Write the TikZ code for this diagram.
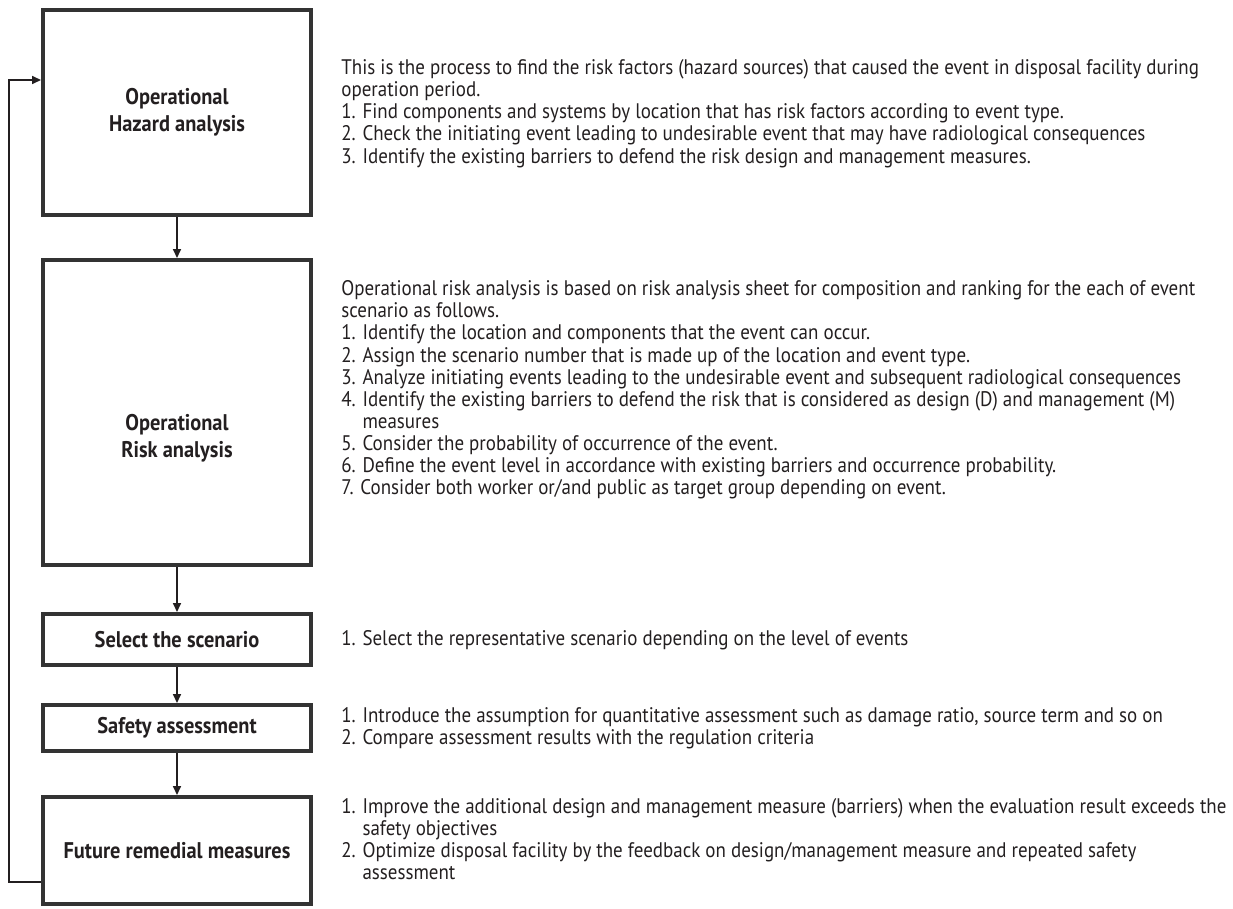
\documentclass[tikz,border=0pt]{standalone}
\usepackage{fontspec}
\setmainfont[FakeStretch=0.9]{PT Sans}
\usepackage{tikz}
\usetikzlibrary{arrows.meta,positioning}
\definecolor{ink}{HTML}{231F20}
\definecolor{frame}{HTML}{333333}

\begin{document}
\begin{tikzpicture}[
  box/.style={draw=frame,line width=2.3pt,minimum width=5.36cm,inner sep=2pt,align=center,
    font=\fontsize{12.9}{15.5}\selectfont\bfseries,text=ink},
  note/.style={anchor=west,align=left,inner sep=0pt,
    font=\fontsize{12}{12.6}\selectfont,text=ink},
  conn/.style={draw=ink,line width=0.8pt,-{Triangle[length=5pt,width=4.5pt]}}
  ]
\def\bx{3.54}
\def\tx{6.82}
\useasboundingbox (0,0) rectangle (24.66,-18.16);
% boxes
\node[box,minimum height=4.1cm] (oha) at (\bx,-2.25) {Operational\\Hazard analysis};
\node[box,minimum height=6.1cm] (ora) at (\bx,-8.25) {};
\node[box,draw=none] (oralab) at ([yshift=-0.52cm]ora.center) {Operational\\Risk analysis};
\node[box,minimum height=1.02cm] (sel) at (\bx,-12.79) {Select the scenario};
\node[box,minimum height=0.92cm] (saf) at (\bx,-14.56) {Safety assessment};
\node[box,minimum height=2.14cm] (frm) at (\bx,-17.01) {Future remedial measures};
% arrows
\draw[conn] (oha) -- (ora);
\draw[conn] (ora) -- (sel);
\draw[conn] (sel) -- (saf);
\draw[conn] (saf) -- (frm);
\coordinate (fb) at (0.18,-1.6);
\draw[conn] ([yshift=-0.63cm]frm.west) -| (fb) -- ([yshift=0.65cm]oha.west);
% descriptions
\node[note] (ohanote) at (\tx,-2.27) {This is the process to find the risk factors (hazard sources) that caused the event in disposal facility during\\
operation period.\\
1. Find components and systems by location that has risk factors according to event type.\\
2. Check the initiating event leading to undesirable event that may have radiological consequences\\
3. Identify the existing barriers to defend the risk design and management measures.};
\node[note] (oranote) at (\tx,-7.8) {Operational risk analysis is based on risk analysis sheet for composition and ranking for the each of event\\
scenario as follows.\\
1. Identify the location and components that the event can occur.\\
2. Assign the scenario number that is made up of the location and event type.\\
3. Analyze initiating events leading to the undesirable event and subsequent radiological consequences\\
4. Identify the existing barriers to defend the risk that is considered as design (D) and management (M)\\
\phantom{4. }measures\\
5. Consider the probability of occurrence of the event.\\
6. Define the event level in accordance with existing barriers and occurrence probability.\\
7. Consider both worker or/and public as target group depending on event.};
\node[note] (selnote) at (\tx,-12.8) {1. Select the representative scenario depending on the level of events};
\node[note] (safnote) at (\tx,-14.56) {1. Introduce the assumption for quantitative assessment such as damage ratio, source term and so on\\
2. Compare assessment results with the regulation criteria};
\node[note] (frmnote) at (\tx,-16.78) {1. Improve the additional design and management measure (barriers) when the evaluation result exceeds the\\
\phantom{1. }safety objectives\\
2. Optimize disposal facility by the feedback on design/management measure and repeated safety\\
\phantom{2. }assessment};
\end{tikzpicture}
\end{document}
